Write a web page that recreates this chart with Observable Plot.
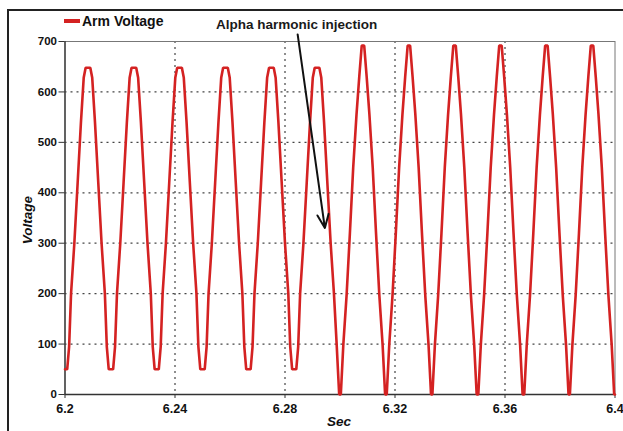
<!DOCTYPE html>
<html>
<head>
<meta charset="utf-8">
<script src="https://cdn.jsdelivr.net/npm/d3@7"></script>
<script src="https://cdn.jsdelivr.net/npm/@observablehq/plot@0.6"></script>
<style>
  html, body { margin: 0; padding: 0; background: #fff; }
  #wrap { position: relative; width: 623px; height: 431px; overflow: hidden; font-family: "Liberation Sans", Arial, sans-serif; }
  #border { position: absolute; left: 7px; top: 9px; width: 640px; height: 450px; border-top: 2px solid #222; border-left: 2px solid #222; }
  #legend { position: absolute; left: 64px; top: 13px; font-weight: bold; font-size: 14px; color: #111; display: flex; align-items: center; }
  #legend .sw { display: inline-block; width: 16px; height: 4px; background: #d42222; margin-right: 2px; }
  #xlabel { position: absolute; left: 0; width: 678px; top: 414px; text-align: center; font-weight: bold; font-style: italic; font-size: 13.5px; color: #111; }
  #ylabel { position: absolute; left: 27px; top: 220px; transform: translate(-50%, -50%) rotate(-90deg); font-weight: bold; font-style: italic; font-size: 13.5px; color: #111; white-space: nowrap; }
  svg { position: absolute; left: 0; top: 0; }
</style>
</head>
<body>
<div id="wrap">
  <div id="border"></div>
</div>
<script>
// ---- data ----
const seriesName = "Arm Voltage";
const xTitle = "Sec";
const yTitle = "Voltage";
const xTicks = [6.2, 6.24, 6.28, 6.32, 6.36, 6.4];
const xTickLabels = ["6.2", "6.24", "6.28", "6.32", "6.36", "6.4"];
const yTicks = [0, 100, 200, 300, 400, 500, 600, 700];
const xGrid = [6.24, 6.28, 6.32, 6.36];
const yGrid = [100, 200, 300, 400, 500, 600];

const sec = [
  6.2000, 6.2008, 6.2015, 6.2022, 6.2034, 6.2046, 6.2058, 6.2068, 6.2075, 6.2092, 6.2099, 6.2109, 6.2121, 6.2133, 6.2145, 6.2152, 6.2159,
  6.2175, 6.2182, 6.2189, 6.2201, 6.2213, 6.2225, 6.2235, 6.2242, 6.2259, 6.2266, 6.2276, 6.2288, 6.2300, 6.2312, 6.2319, 6.2326,
  6.2341, 6.2348, 6.2355, 6.2367, 6.2379, 6.2391, 6.2401, 6.2408, 6.2425, 6.2432, 6.2442, 6.2454, 6.2466, 6.2478, 6.2485, 6.2492,
  6.2508, 6.2515, 6.2522, 6.2534, 6.2546, 6.2558, 6.2568, 6.2575, 6.2592, 6.2599, 6.2609, 6.2621, 6.2633, 6.2645, 6.2652, 6.2659,
  6.2675, 6.2682, 6.2689, 6.2701, 6.2713, 6.2725, 6.2735, 6.2742, 6.2759, 6.2766, 6.2776, 6.2788, 6.2800, 6.2812, 6.2819, 6.2826,
  6.2841, 6.2848, 6.2855, 6.2867, 6.2879, 6.2891, 6.2901, 6.2908, 6.2925, 6.2932, 6.2942, 6.2954, 6.2966, 6.2978, 6.2988, 6.2997,
  6.3003, 6.3012, 6.3024, 6.3036, 6.3048, 6.3060, 6.3070, 6.3079, 6.3088, 6.3097, 6.3107, 6.3119, 6.3131, 6.3143, 6.3155, 6.3164,
  6.3170, 6.3179, 6.3191, 6.3203, 6.3215, 6.3227, 6.3237, 6.3246, 6.3255, 6.3264, 6.3274, 6.3286, 6.3298, 6.3310, 6.3322, 6.3331,
  6.3336, 6.3345, 6.3357, 6.3369, 6.3381, 6.3393, 6.3403, 6.3412, 6.3421, 6.3430, 6.3440, 6.3452, 6.3464, 6.3476, 6.3488, 6.3497,
  6.3503, 6.3512, 6.3524, 6.3536, 6.3548, 6.3560, 6.3570, 6.3579, 6.3588, 6.3597, 6.3607, 6.3619, 6.3631, 6.3643, 6.3655, 6.3664,
  6.3670, 6.3679, 6.3691, 6.3703, 6.3715, 6.3727, 6.3737, 6.3746, 6.3755, 6.3764, 6.3774, 6.3786, 6.3798, 6.3810, 6.3822, 6.3831,
  6.3836, 6.3845, 6.3857, 6.3869, 6.3881, 6.3893, 6.3903, 6.3912, 6.3921, 6.3930, 6.3940, 6.3952, 6.3964, 6.3976, 6.3988, 6.3997, 6.4000
];
const voltage = [
  50, 50, 95, 200, 300, 420, 540, 628, 648, 648, 628, 540, 420, 300, 200, 95, 50,
  50, 95, 200, 300, 420, 540, 628, 648, 648, 628, 540, 420, 300, 200, 95, 50,
  50, 95, 200, 300, 420, 540, 628, 648, 648, 628, 540, 420, 300, 200, 95, 50,
  50, 95, 200, 300, 420, 540, 628, 648, 648, 628, 540, 420, 300, 200, 95, 50,
  50, 95, 200, 300, 420, 540, 628, 648, 648, 628, 540, 420, 300, 200, 95, 50,
  50, 95, 200, 300, 420, 540, 628, 648, 648, 628, 540, 420, 300, 200, 98, 0,
  0, 98, 197, 320, 450, 555, 630, 692, 692, 630, 555, 450, 320, 197, 98, 0,
  0, 98, 197, 320, 450, 555, 630, 692, 692, 630, 555, 450, 320, 197, 98, 0,
  0, 98, 197, 320, 450, 555, 630, 692, 692, 630, 555, 450, 320, 197, 98, 0,
  0, 98, 197, 320, 450, 555, 630, 692, 692, 630, 555, 450, 320, 197, 98, 0,
  0, 98, 197, 320, 450, 555, 630, 692, 692, 630, 555, 450, 320, 197, 98, 0,
  0, 98, 197, 320, 450, 555, 630, 692, 692, 630, 555, 450, 320, 197, 98, 0, 0
];

// annotation (in data units)
const noteText = "Alpha harmonic injection";
const noteX = [6.2842];
const noteY = [734];
const arrowFrom = [6.2846, 714];
const arrowTo = [6.2945, 330];

// ---- build ----
const data = sec.map((t, i) => ({t, v: voltage[i]}));
const xLabelOf = new Map(xTicks.map((t, i) => [t, xTickLabels[i]]));

const chart = Plot.plot({
  width: 623,
  height: 431,
  marginLeft: 64.5,
  marginRight: 8.5,
  marginTop: 41,
  marginBottom: 37,
  style: {fontFamily: "'Liberation Sans', Arial, sans-serif", background: "transparent", color: "#111", overflow: "visible"},
  x: {domain: [6.2, 6.4]},
  y: {domain: [0, 700]},
  marks: [
    Plot.gridX(xGrid, {stroke: "#444", strokeOpacity: 1, strokeDasharray: "2,4", strokeWidth: 1.2}),
    Plot.gridY(yGrid, {stroke: "#444", strokeOpacity: 1, strokeDasharray: "2,4", strokeWidth: 1.2}),
    Plot.frame({stroke: "#777", strokeWidth: 1}),
    Plot.ruleX([6.2], {stroke: "#333", strokeWidth: 1.3}),
    Plot.ruleY([0], {stroke: "#333", strokeWidth: 1.3}),
    Plot.axisX({ticks: xTicks, tickFormat: d => xLabelOf.get(d), tickSize: 4, tickPadding: 6, fontSize: 12.5, fontWeight: "bold", label: null, stroke: "#333"}),
    Plot.axisY({ticks: yTicks, tickSize: 6, tickPadding: 2, fontSize: 11.5, fontWeight: "bold", label: null, stroke: "#333"}),
    Plot.line(data, {x: "t", y: "v", stroke: "#d42222", strokeWidth: 2.6, strokeLinejoin: "miter"}),
    Plot.arrow([{x1: arrowFrom[0], y1: arrowFrom[1], x2: arrowTo[0], y2: arrowTo[1]}],
      {x1: "x1", y1: "y1", x2: "x2", y2: "y2", stroke: "#111", strokeWidth: 2, headLength: 11, headAngle: 45, bend: 0}),
    Plot.text([noteText], {x: noteX, y: noteY, text: d => d, fontSize: 13.5, fontWeight: "bold", fill: "#1a1a1a"})
  ]
});

const wrap = document.getElementById("wrap");
wrap.appendChild(chart);

const legend = document.createElement("div");
legend.id = "legend";
legend.innerHTML = `<span class="sw"></span><span></span>`;
legend.lastChild.textContent = seriesName;
wrap.appendChild(legend);

const xl = document.createElement("div");
xl.id = "xlabel"; xl.textContent = xTitle; wrap.appendChild(xl);
const yl = document.createElement("div");
yl.id = "ylabel"; yl.textContent = yTitle; wrap.appendChild(yl);
</script>
</body>
</html>
